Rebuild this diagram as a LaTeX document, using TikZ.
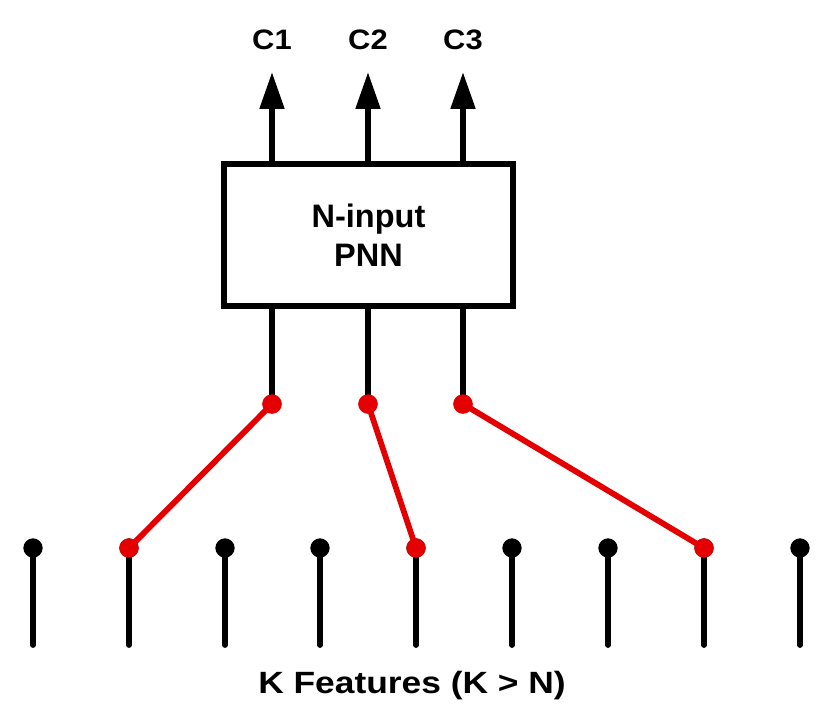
\documentclass[tikz,border=0pt]{standalone}
\usepackage{fontspec}
\setmainfont{Liberation Sans}
\usetikzlibrary{arrows.meta}
\definecolor{selred}{RGB}{228,0,0}
\begin{document}
\begin{tikzpicture}[x=0.02cm,y=-0.02cm,
  box/.style={draw,line width=3.1pt,minimum width=5.78cm,minimum height=2.84cm,inner sep=0pt,
    font=\fontsize{18.5}{23}\bfseries,align=center},
  wire/.style={line width=3.3pt},
  arr/.style={line width=3.3pt,-{Triangle[length=21pt,width=13.5pt]}},
  feat/.style={circle,fill=black,minimum size=11pt,inner sep=0pt},
  seldot/.style={circle,fill=selred,minimum size=11pt,inner sep=0pt},
  link/.style={line width=3.3pt,draw=selred},
  clabel/.style={font=\fontsize{16}{18}\bfseries,xscale=1.1,transform shape},
  caption/.style={font=\fontsize{17.5}{20}\bfseries,xscale=1.15,transform shape}]
\useasboundingbox (0,0) rectangle (816,704);
\node[box] (pnn) at (368.5,235) {N-input\\[-1pt]PNN};
% outputs
\foreach \i/\x in {1/272,2/368,3/463}{
  \coordinate (top\i) at (\x,72);
  \draw[arr] (top\i |- pnn.north) -- (top\i);
  \node[clabel] (c\i) at (\x,40) {C\i};
  \node[seldot] (s\i) at (\x,404) {};
  \draw[wire] (top\i |- pnn.south) -- (s\i.center);
}
% features
\foreach \i/\x in {1/33,2/129,3/225,4/320,5/416,6/512,7/608,8/704,9/800}{
  \coordinate (b\i) at (\x,645);
  \node[feat] (f\i) at (\x,548) {};
  \draw[wire,line cap=round] (f\i.center) -- (b\i);
}
\draw[link] (s1.center) -- (f2.center);
\draw[link] (s2.center) -- (f5.center);
\draw[link] (s3.center) -- (f8.center);
\foreach \i in {1,2,3}{\node[seldot] at (s\i) {};}
\node[seldot] at (f2) {};
\node[seldot] at (f5) {};
\node[seldot] at (f8) {};
\node[caption] (cap) at (412,686) {K Features (K > N)};
\end{tikzpicture}
\end{document}
